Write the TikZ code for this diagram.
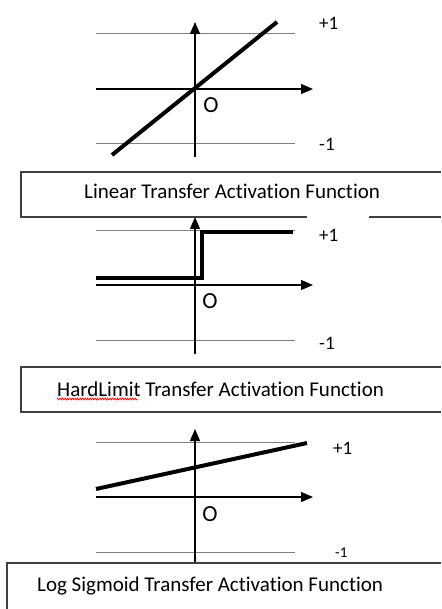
\documentclass[tikz,border=0pt]{standalone}
\usepackage{fontspec}
\setmainfont[Ligatures=CommonOff]{Carlito}
\usetikzlibrary{arrows.meta, decorations.pathmorphing}

\begin{document}
\begin{tikzpicture}[x=1pt, y=-1pt,
    axis/.style={line width=1.3pt, -{Triangle[length=12pt, width=10pt]}},
    level/.style={gray, line width=1pt},
    curve/.style={line width=4pt, line join=miter},
    frame/.style={black!75, line width=1.6pt},
    caption/.style={anchor=base west, inner sep=0pt, font=\fontsize{21}{24}\selectfont},
    tick/.style={anchor=base west, inner sep=0pt, font=\fontsize{19}{22}\selectfont},
    origin/.style={inner sep=0pt, font=\fontsize{23}{23}\selectfont}]
      \useasboundingbox (0,0) rectangle (441,609);

      % First plot: linear
      \coordinate (l0) at (96,89);
      \coordinate (l1) at (313,89);
      \coordinate (v0) at (195,157);
      \coordinate (v1) at (195,22);
      \draw[level] (96,34) -- (295,34);
      \draw[level] (96,144) -- (295,144);
      \draw[axis] (l0) -- (l1);
      \draw[axis] (v0) -- (v1);
      \coordinate (a0) at (112,155);
      \coordinate (a1) at (277,22);
      \draw[curve] (a0) -- (a1);
      \node[origin] (o1) at (211,105) {O};
      \node[tick] (p1) at (319,30) {+1};
      \node[tick] (m1) at (319,151) {-1};
      \draw[frame] (441,172) -| (21,217) -- (307,217);
      \draw[frame] (369,217) -- (441,217);
      \node[caption] (c1) at (84,199) {Linear Transfer Activation Function};

      % Second plot: hard limit
      \coordinate (l2) at (96,285);
      \coordinate (l3) at (313,285);
      \coordinate (v2) at (195,354);
      \coordinate (v3) at (195,217);
      \draw[level] (96,231) -- (295,231);
      \draw[level] (96,340) -- (295,340);
      \draw[axis] (l2) -- (l3);
      \draw[axis] (v2) -- (v3);
      \coordinate (b0) at (96,278);
      \coordinate (b1) at (293,232);
      \draw[curve] (b0) -- (202,278) -- (202,232) -- (b1);
      \node[origin] (o2) at (210,301) {O};
      \node[tick] (p2) at (319,241) {+1};
      \node[tick] (m2) at (319,349) {-1};
      \draw[frame] (441,367) -| (21,412) -- (441,412);
      \node[caption] (c2) at (57,396) {HardLimit Transfer Activation Function};
      \draw[red, line width=0.6pt, decorate,
            decoration={zigzag, amplitude=1pt, segment length=2.5pt}]
            (57,399) -- (137,399);

      % Third plot: log sigmoid
      \coordinate (l4) at (96,497);
      \coordinate (l5) at (313,497);
      \coordinate (v4) at (195,563);
      \coordinate (v5) at (195,429);
      \draw[level] (96,442) -- (295,442);
      \draw[level] (96,552) -- (295,552);
      \draw[axis] (l4) -- (l5);
      \draw[axis] (v4) -- (v5);
      \coordinate (s0) at (96,489);
      \coordinate (s1) at (307,443);
      \draw[curve] (s0) -- (s1);
      \node[origin] (o3) at (210,514) {O};
      \node[tick] (p3) at (333,454) {+1};
      \node[tick, font=\fontsize{15}{17}\selectfont] (m3) at (335,557) {-1};
      \draw[frame] (7,609) |- (441,563);
      \node[caption] (c3) at (37,591) {Log Sigmoid Transfer Activation Function};
\end{tikzpicture}
\end{document}
